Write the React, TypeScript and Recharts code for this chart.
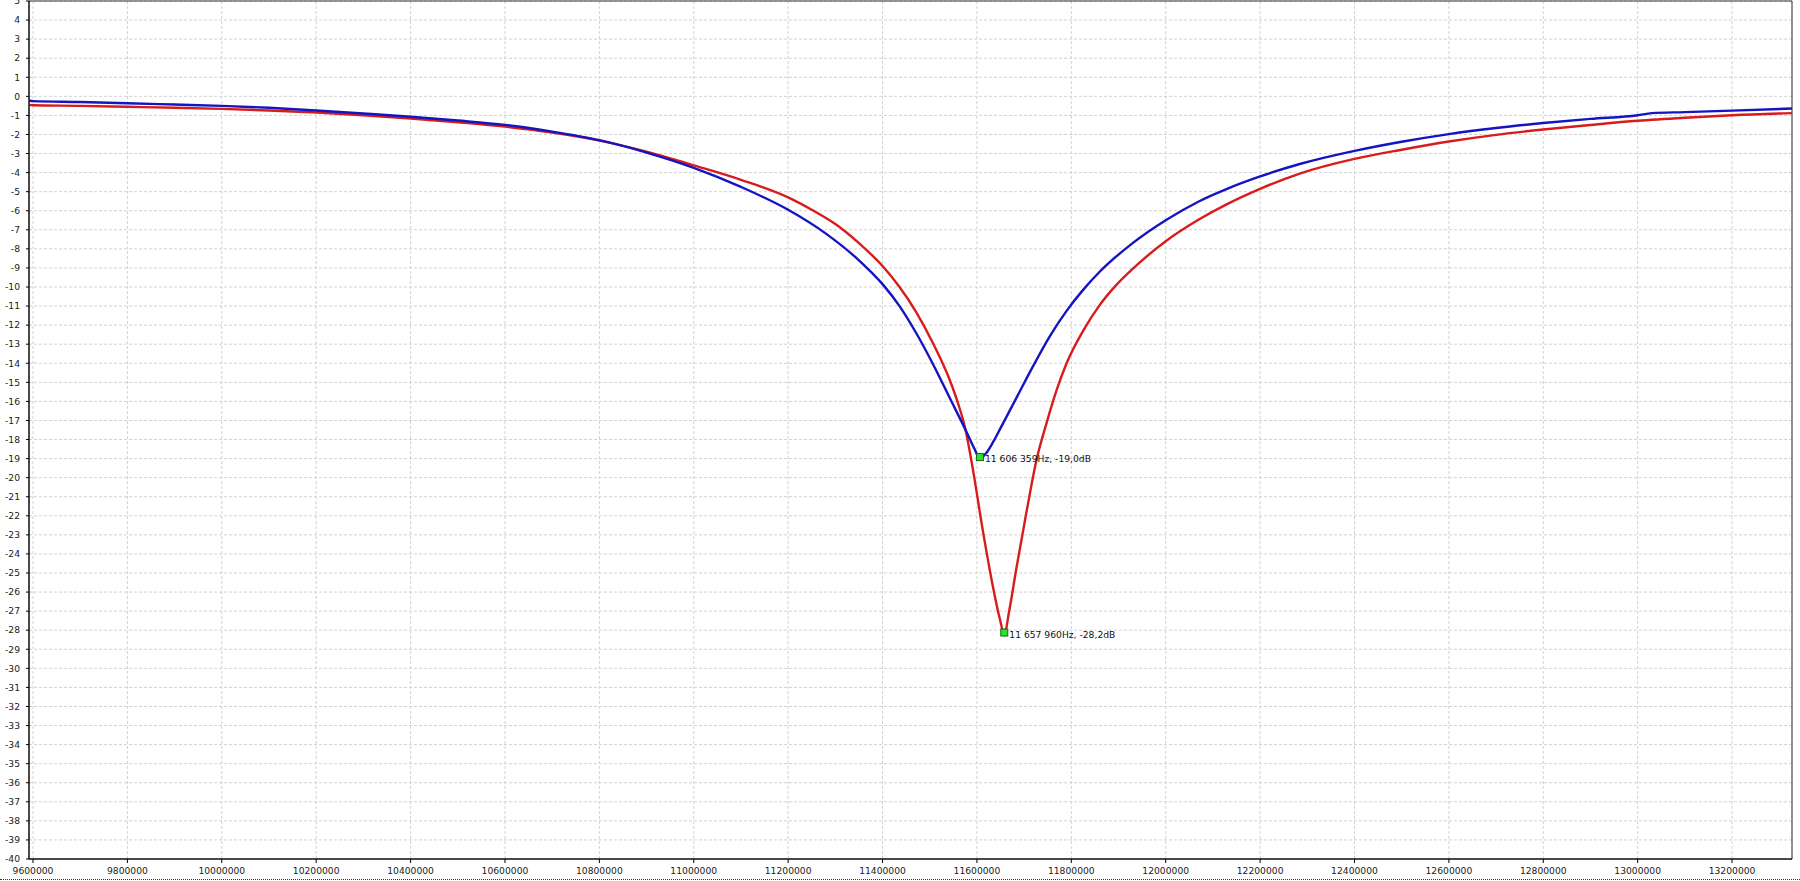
import React from 'react';
import {
  LineChart,
  Line,
  XAxis,
  YAxis,
  CartesianGrid,
  ReferenceDot,
  ReferenceArea,
} from 'recharts';

// ---- tick labels ----
const xTicks = [
  9600000, 9800000, 10000000, 10200000, 10400000, 10600000, 10800000, 11000000,
  11200000, 11400000, 11600000, 11800000, 12000000, 12200000, 12400000, 12600000,
  12800000, 13000000, 13200000,
];
const yTicks = [
  5, 4, 3, 2, 1, 0, -1, -2, -3, -4, -5, -6, -7, -8, -9, -10, -11, -12, -13, -14,
  -15, -16, -17, -18, -19, -20, -21, -22, -23, -24, -25, -26, -27, -28, -29, -30,
  -31, -32, -33, -34, -35, -36, -37, -38, -39, -40,
];
const xDomain = [9591500, 13327000];
const yDomain = [-40, 5];

// ---- blue trace (frequency Hz, level dB) ----
const blueFreq = [
  9592000, 9600000, 9700000, 9800000, 9900000, 10000000, 10100000, 10200000,
  10300000, 10400000, 10500000, 10600000, 10700000, 10800000, 10900000, 11000000,
  11100000, 11200000, 11280000, 11350000, 11400000, 11436000, 11471000, 11507000,
  11542000, 11577000, 11595000, 11606359, 11620000, 11635000, 11650000, 11684000,
  11719000, 11754000, 11790000, 11825000, 11860000, 11930000, 12000000, 12071000,
  12130000, 12200000, 12284000, 12400000, 12500000, 12600000, 12700000, 12800000,
  12900000, 13000000, 13030000, 13100000, 13200000, 13327000,
];
const blueDb = [
  -0.22, -0.25, -0.3, -0.36, -0.43, -0.5, -0.6, -0.74,
  -0.9, -1.07, -1.27, -1.5, -1.85, -2.3, -2.95, -3.75,
  -4.75, -5.95, -7.2, -8.6, -9.85, -11.0, -12.4, -14.05,
  -15.8, -17.55, -18.5, -19.0, -18.7, -18.1, -17.4, -15.8,
  -14.15, -12.6, -11.25, -10.15, -9.2, -7.7, -6.5, -5.5,
  -4.85, -4.2, -3.55, -2.86, -2.38, -1.98, -1.66, -1.4,
  -1.18, -0.99, -0.88, -0.83, -0.75, -0.64,
];

// ---- red trace (frequency Hz, level dB) ----
const redFreq = [
  9592000, 9600000, 9700000, 9800000, 9900000, 10000000, 10100000, 10200000,
  10300000, 10400000, 10500000, 10600000, 10700000, 10800000, 10900000, 11000000,
  11100000, 11200000, 11250000, 11300000, 11350000, 11400000, 11436000, 11471000,
  11507000, 11542000, 11560000, 11575000, 11591000, 11612000, 11633000, 11648000,
  11657960, 11669000, 11684000, 11705000, 11726000, 11748000, 11769000, 11790000,
  11825000, 11860000, 11895000, 11930000, 12000000, 12071000, 12130000, 12200000,
  12284000, 12400000, 12500000, 12600000, 12700000, 12800000, 12900000, 13000000,
  13100000, 13200000, 13327000,
];
const redDb = [
  -0.45, -0.47, -0.5, -0.55, -0.6, -0.66, -0.74, -0.85,
  -0.99, -1.16, -1.36, -1.59, -1.9, -2.32, -2.9, -3.62,
  -4.38, -5.3, -5.95, -6.7, -7.7, -8.9, -10.0, -11.3,
  -12.95, -14.85, -16.1, -17.4, -19.5, -22.7, -25.6, -27.35,
  -28.2, -26.9, -24.7, -21.8, -19.1, -17.1, -15.4, -14.0,
  -12.3, -10.95, -9.9, -9.05, -7.6, -6.45, -5.65, -4.85,
  -4.05, -3.28, -2.8, -2.37, -2.02, -1.74, -1.5, -1.28,
  -1.12, -0.99, -0.88,
];

// ---- markers ----
const markerFreq = [11606359, 11657960];
const markerDb = [-19.0, -28.2];
const markerLabels = ['11 606 359Hz, -19,0dB', '11 657 960Hz, -28,2dB'];

const blueData = blueFreq.map((f, i) => ({ f, db: blueDb[i] }));
const redData = redFreq.map((f, i) => ({ f, db: redDb[i] }));

const FONT = 'DejaVu Sans';

const makeMarker = (label: string) => (props: any) => {
  const { cx, cy } = props;
  if (cx == null || cy == null) return <g />;
  return (
    <g>
      <rect
        x={cx - 3.5}
        y={cy - 5}
        width={7}
        height={7}
        fill="#2ee02e"
        stroke="#0f6a0f"
        strokeWidth={1}
      />
      <text
        x={cx + 5}
        y={cy + 1}
        fontSize={9.2}
        fontFamily={FONT}
        fill="#111"
        dominantBaseline="middle"
      >
        {label}
      </text>
    </g>
  );
};

export default function App() {
  return (
    <div
      style={{
        position: 'absolute',
        left: 0,
        top: 0,
        width: 1800,
        height: 881,
        background: '#fff',
      }}
    >
      <LineChart
        width={1800}
        height={881}
        margin={{ top: 1, right: 8, bottom: 0, left: 0 }}
      >
        <CartesianGrid stroke="#d2d2d2" strokeDasharray="3 2" />
        <XAxis
          dataKey="f"
          type="number"
          domain={xDomain}
          ticks={xTicks}
          interval={0}
          allowDataOverflow
          height={22}
          stroke="#000"
          tickSize={4}
          tickMargin={4}
          tick={{ fontSize: 9.2, fontFamily: FONT, fill: '#1a1a1a' }}
        />
        <YAxis
          type="number"
          domain={yDomain}
          ticks={yTicks}
          interval={0}
          allowDataOverflow
          width={29}
          stroke="#000"
          tickSize={3}
          tickMargin={6}
          tick={{ fontSize: 9.2, fontFamily: FONT, fill: '#1a1a1a' }}
        />
        <ReferenceArea
          x1={xDomain[0]}
          x2={xDomain[1]}
          y1={yDomain[0]}
          y2={yDomain[1]}
          fill="none"
          stroke="#333"
          strokeWidth={1}
          ifOverflow="visible"
        />
        <Line
          data={redData}
          dataKey="db"
          type="monotone"
          stroke="#d81c1c"
          strokeWidth={2.4}
          dot={false}
          isAnimationActive={false}
        />
        <Line
          data={blueData}
          dataKey="db"
          type="monotone"
          stroke="#1414c0"
          strokeWidth={2.4}
          dot={false}
          isAnimationActive={false}
        />
        {markerFreq.map((f, i) => (
          <ReferenceDot
            key={i}
            x={f}
            y={markerDb[i]}
            r={4}
            ifOverflow="visible"
            shape={makeMarker(markerLabels[i])}
          />
        ))}
      </LineChart>
      <div
        style={{
          position: 'absolute',
          left: 0,
          top: 879,
          width: 1800,
          height: 0,
          borderTop: '1px dotted #333',
        }}
      />
    </div>
  );
}
